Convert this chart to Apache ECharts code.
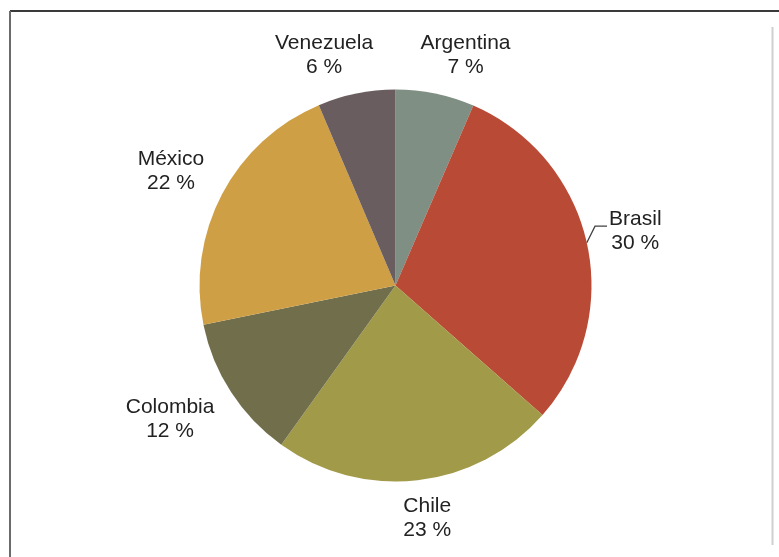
<!DOCTYPE html>
<html>
<head>
<meta charset="utf-8">
<script src="https://cdn.jsdelivr.net/npm/echarts@6/dist/echarts.min.js"></script>
<style>
html,body{margin:0;padding:0;background:#fff;}
#chart{width:779px;height:557px;}
</style>
</head>
<body>
<div id="chart"></div>
<script>
// Data
const categories = ['Argentina', 'Brasil', 'Chile', 'Colombia', 'México', 'Venezuela'];
const values = [6.5, 30.0, 23.4, 11.9, 21.8, 6.4];
const colors = ['#7F8F84', '#B94A35', '#A19A48', '#716E4B', '#CF9F45', '#6A5D5F'];
const leaderLines = ['Brasil'];

const cx = 395.5, cy = 285.5, R = 196;
const gap = 13, sideGap = 8, leaderExtra = 2;
const total = values.reduce((a, b) => a + b, 0);
const midAngles = [];
let acc = 0;
values.forEach(v => { midAngles.push((acc + v / 2) / total * 2 * Math.PI); acc += v; });
const clamp = (v, a, b) => Math.max(a, Math.min(b, v));

const chart = echarts.init(document.getElementById('chart'), null, {renderer: 'canvas'});
chart.setOption({
  backgroundColor: '#ffffff',
  animation: false,
  graphic: [
    {type: 'line', shape: {x1: 10, y1: 11, x2: 779, y2: 11}, style: {stroke: '#3a3a3a', lineWidth: 2}},
    {type: 'line', shape: {x1: 10, y1: 11, x2: 10, y2: 557}, style: {stroke: '#6b6b6b', lineWidth: 2}},
    {type: 'line', shape: {x1: 772.5, y1: 27, x2: 772.5, y2: 545}, style: {stroke: '#d0d0d0', lineWidth: 2}}
  ],
  series: [{
    type: 'pie',
    center: [cx, cy],
    radius: R,
    startAngle: 90,
    clockwise: true,
    avoidLabelOverlap: false,
    data: categories.map((c, i) => ({
      name: c,
      value: values[i],
      itemStyle: {color: colors[i]},
      labelLine: {show: leaderLines.indexOf(c) >= 0}
    })),
    itemStyle: {borderWidth: 0},
    label: {
      show: true,
      position: 'outside',
      formatter: p => p.name + '\n' + Math.round(p.percent) + ' %',
      fontFamily: 'Liberation Sans, Arial, sans-serif',
      fontSize: 21,
      lineHeight: 24,
      color: '#222222'
    },
    labelLine: {show: false, lineStyle: {color: '#404040', width: 1.3}},
    labelLayout: function (p) {
      const i = p.dataIndex;
      const th = midAngles[i];
      const s = Math.sin(th), c = Math.cos(th);
      const hasLeader = leaderLines.indexOf(categories[i]) >= 0;
      const d = R + gap + sideGap * Math.abs(s) + (hasLeader ? leaderExtra : 0);
      const w = p.labelRect.width / 2, h = p.labelRect.height / 2;
      const x = cx + d * s + w * clamp(3 * s, -1, 1);
      const y = cy - d * c - h * clamp(1.25 * c, -1, 1);
      const out = {x: x, y: y, align: 'center', verticalAlign: 'middle'};
      if (hasLeader) {
        const p0 = [cx + R * s, cy - R * c];
        const p2 = [x - w - 2, y - 5];
        const p1 = [p2[0] - 12, p2[1]];
        out.labelLinePoints = [p0, p1, p2];
      }
      return out;
    }
  }]
});
</script>
</body>
</html>
